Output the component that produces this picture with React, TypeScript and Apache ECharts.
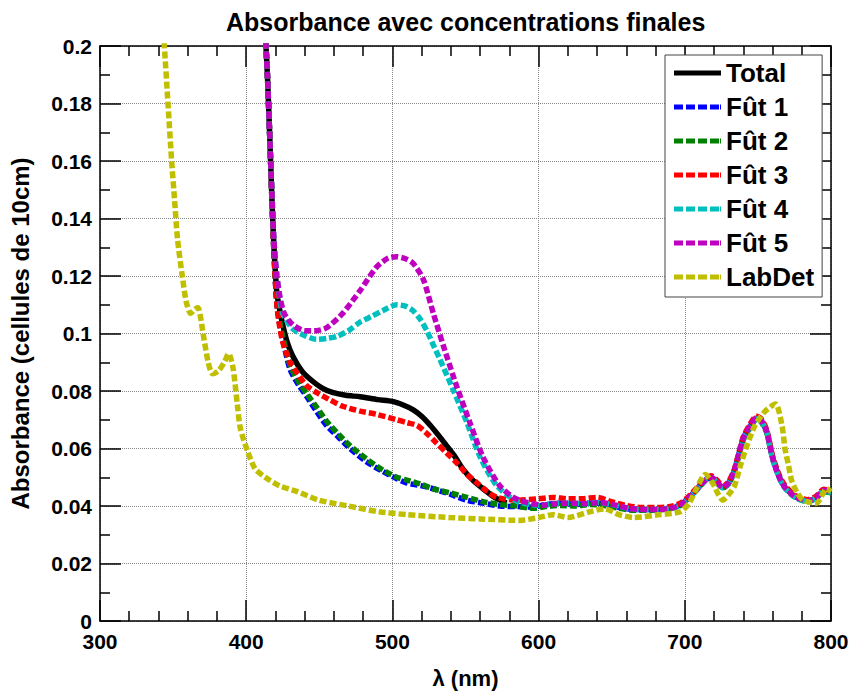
import React, { useEffect, useRef } from "react";
import * as echarts from "echarts";

const seriesNames = ["Total", "Fût 1", "Fût 2", "Fût 3", "Fût 4", "Fût 5", "LabDet"];
const seriesColors = ["#000000", "#0000FF", "#008000", "#FF0000", "#00BFBF", "#BF00BF", "#BFBF00"];

const xTicks = [300, 400, 500, 600, 700, 800];
const yTicks = [0, 0.02, 0.04, 0.06, 0.08, 0.1, 0.12, 0.14, 0.16, 0.18, 0.2];

const totalData: number[][] = [
  [413, 0.205], [414.5, 0.19], [416, 0.17], [417.5, 0.148], [419, 0.13], [421, 0.114],
  [423, 0.108], [425, 0.103], [428, 0.097], [432, 0.092], [438, 0.087], [444, 0.084], [452, 0.081],
  [459, 0.0795], [468, 0.0785], [478, 0.078], [490, 0.077], [500, 0.0764], [507, 0.0752],
  [514, 0.0735], [520, 0.0712], [526, 0.068], [532, 0.0643], [537, 0.061], [543, 0.057],
  [548, 0.053], [555, 0.049], [562, 0.046], [570, 0.043], [578, 0.041],
];

const fut1Data: number[][] = [
  [413, 0.205], [414.5, 0.19], [416, 0.17], [417.5, 0.148], [419, 0.128], [421, 0.11],
  [423, 0.103], [425, 0.098], [430, 0.0875], [436, 0.082], [441.5, 0.078], [448, 0.073],
  [455, 0.068], [463, 0.064], [471, 0.06], [482, 0.0555], [493.5, 0.052], [503, 0.0495],
  [510, 0.048], [520, 0.047], [528, 0.046], [540, 0.044], [551, 0.042], [562, 0.041],
  [573.5, 0.04], [585, 0.0398], [596, 0.0396], [605, 0.0405], [615, 0.041], [625, 0.0405],
  [635, 0.041], [645, 0.0408], [655, 0.0395], [665, 0.0388], [675, 0.0388], [685, 0.039],
  [692, 0.0395], [697, 0.0405], [703, 0.043], [708, 0.0458], [714, 0.049], [718, 0.05],
  [722, 0.0483], [726, 0.0465], [730, 0.048], [734, 0.0525], [740, 0.0635], [745, 0.068],
  [749, 0.0705], [752, 0.0698], [756, 0.066], [760, 0.057], [764, 0.051], [768, 0.047],
  [775, 0.0435], [784, 0.0418], [790, 0.043], [795, 0.0452], [800, 0.0448],
];

const fut2Data: number[][] = [
  [413, 0.205], [414.5, 0.19], [416, 0.17], [417.5, 0.148], [419, 0.128], [421, 0.111],
  [423, 0.104], [425, 0.099], [430, 0.089], [436, 0.083], [441.5, 0.079], [448, 0.0745],
  [455, 0.0695], [463, 0.065], [471, 0.061], [482, 0.0565], [493.5, 0.0525], [503, 0.05],
  [510, 0.049], [520, 0.0475], [528, 0.046], [540, 0.0445], [551, 0.043], [562, 0.0415],
  [573.5, 0.0405], [585, 0.04], [596, 0.0392], [605, 0.0398], [615, 0.0402], [625, 0.04],
  [635, 0.0405], [645, 0.0402], [655, 0.0392], [665, 0.0385], [675, 0.0385], [685, 0.0388],
  [692, 0.0393], [697, 0.0402], [703, 0.0428], [708, 0.0455], [714, 0.0488], [718, 0.0498],
  [722, 0.048], [726, 0.0462], [730, 0.0478], [734, 0.0522], [740, 0.063], [745, 0.0675],
  [749, 0.07], [752, 0.0694], [756, 0.0655], [760, 0.0568], [764, 0.0508], [768, 0.0468],
  [775, 0.0432], [784, 0.0415], [790, 0.0428], [795, 0.045], [800, 0.0446],
];

const fut3Data: number[][] = [
  [413, 0.205], [414.5, 0.19], [416, 0.17], [417.5, 0.148], [419, 0.128], [421, 0.11],
  [423, 0.102], [425, 0.097], [430, 0.09], [434.5, 0.0865], [441, 0.082], [448, 0.0795],
  [457, 0.077], [466, 0.0747], [478, 0.073], [489, 0.0719], [503, 0.07], [510, 0.069],
  [517, 0.068], [523, 0.0655], [530, 0.062], [537, 0.0585], [544, 0.055], [551, 0.051],
  [558, 0.048], [565, 0.045], [571.5, 0.043], [585, 0.042], [600, 0.0425], [610, 0.043],
  [620, 0.0425], [630, 0.0425], [640, 0.043], [650, 0.0415], [660, 0.0402], [670, 0.0395],
  [680, 0.0395], [690, 0.0398], [697, 0.041], [703, 0.0435], [708, 0.0462], [714, 0.0495],
  [718, 0.0505], [722, 0.049], [726, 0.047], [730, 0.0485], [734, 0.053], [740, 0.064],
  [745, 0.0688], [749, 0.0712], [752, 0.0705], [756, 0.0665], [760, 0.0575], [764, 0.0515],
  [768, 0.0475], [775, 0.0438], [784, 0.0422], [790, 0.0435], [795, 0.0458], [800, 0.0452],
];

const fut4Data: number[][] = [
  [413, 0.205], [414.5, 0.19], [416, 0.17], [417.5, 0.15], [419, 0.132], [421, 0.12],
  [423, 0.112], [425, 0.107], [431, 0.102], [437, 0.1], [448, 0.098], [455, 0.0983],
  [462, 0.099], [470, 0.101], [478, 0.104], [486, 0.106], [493.5, 0.108], [503, 0.11],
  [509, 0.1095], [514, 0.108], [519, 0.105], [523.5, 0.101], [528, 0.096], [532.5, 0.091],
  [541.5, 0.0805], [551, 0.069], [560, 0.057], [571.5, 0.047], [585, 0.0417], [601, 0.0402],
  [610, 0.0408], [620, 0.041], [630, 0.0408], [640, 0.0412], [650, 0.0405], [660, 0.0393],
  [670, 0.0388], [680, 0.0388], [690, 0.039], [697, 0.0402], [703, 0.0428], [708, 0.0455],
  [714, 0.0488], [718, 0.0498], [722, 0.0482], [726, 0.0463], [730, 0.0478], [734, 0.0522],
  [740, 0.0632], [745, 0.0678], [749, 0.0703], [752, 0.0697], [756, 0.0658], [760, 0.0565],
  [764, 0.0505], [768, 0.0465], [775, 0.0432], [784, 0.0416], [790, 0.0428], [795, 0.0452],
  [800, 0.0447],
];

const fut5Data: number[][] = [
  [413, 0.205], [414.5, 0.19], [416, 0.17], [417.5, 0.15], [419, 0.132], [421, 0.12],
  [423, 0.113], [426, 0.107], [432, 0.103], [440, 0.101], [448, 0.101], [455, 0.102],
  [466, 0.107], [478, 0.115], [489, 0.123], [497, 0.1262], [503, 0.1267], [509, 0.126],
  [514, 0.1245], [521, 0.119], [528, 0.107], [535, 0.0955], [544, 0.0816], [553, 0.069],
  [562, 0.057], [573.5, 0.047], [585, 0.0424], [603, 0.0403], [612, 0.0408], [622, 0.041],
  [632, 0.0408], [642, 0.0412], [652, 0.0404], [662, 0.0392], [672, 0.0388], [682, 0.0388],
  [690, 0.0391], [697, 0.0404], [703, 0.043], [708, 0.0457], [714, 0.049], [718, 0.05],
  [722, 0.0484], [726, 0.0465], [730, 0.048], [734, 0.0525], [740, 0.0635], [745, 0.0682],
  [749, 0.0707], [752, 0.07], [756, 0.066], [760, 0.0568], [764, 0.0508], [768, 0.0468],
  [775, 0.0434], [784, 0.0418], [790, 0.043], [795, 0.0455], [800, 0.045],
];

const labDetData: number[][] = [
  [343, 0.205], [344, 0.2], [346.5, 0.18], [349, 0.16], [351, 0.1465], [353, 0.133],
  [356, 0.121], [359, 0.111], [362, 0.107], [365, 0.1085], [367, 0.109], [370.5, 0.1],
  [374, 0.09], [377, 0.086], [381, 0.087], [385, 0.09], [388, 0.093], [391, 0.088],
  [394, 0.075], [396, 0.067], [401, 0.059], [406, 0.053], [413, 0.05], [423, 0.047],
  [435, 0.045], [450, 0.042], [470, 0.04], [491, 0.038], [510, 0.037], [539, 0.036],
  [560, 0.0355], [587, 0.035], [600, 0.036], [610, 0.037], [620, 0.036], [635, 0.038],
  [645, 0.039], [655, 0.037], [665, 0.036], [683, 0.037], [697, 0.038], [703, 0.041],
  [708, 0.046], [714, 0.051], [719, 0.048], [723, 0.044], [726, 0.042], [730, 0.044],
  [734, 0.047], [738, 0.054], [742.5, 0.061], [748, 0.068], [755, 0.073], [762, 0.0755],
  [766.5, 0.068], [768.5, 0.06], [771, 0.054], [773, 0.049], [777, 0.0445], [781, 0.042],
  [790, 0.041], [797, 0.046], [800, 0.045],
];

const allData = [totalData, fut1Data, fut2Data, fut3Data, fut4Data, fut5Data, labDetData];

const FONT = "'Liberation Sans', Arial, Helvetica, sans-serif";
const SOLID_ICON = "path://M0,0h47v5h-47z";
const DASH_ICON = "path://M0,0h9v5h-9z M12,0h9v5h-9z M24,0h9v5h-9z M36,0h9v5h-9z M46,0h1v5h-1z";

export default function App() {
  const ref = useRef<HTMLDivElement>(null);
  useEffect(() => {
    if (!ref.current) return;
    const chart = echarts.init(ref.current, undefined, { renderer: "svg" });
    const axisCommon = {
      type: "value" as const,
      axisLine: { show: true, onZero: false, lineStyle: { color: "#000", width: 1.5 } },
      axisTick: { show: true, inside: true, length: 21, lineStyle: { color: "#000", width: 1.5 } },
      minorTick: { show: true, length: 10, lineStyle: { color: "#000", width: 1.5 } },
    };
    const xMin = xTicks[0];
    const xMax = xTicks[xTicks.length - 1];
    const xInt = xTicks[1] - xTicks[0];
    const yMin = yTicks[0];
    const yMax = yTicks[yTicks.length - 1];
    const yInt = yTicks[1] - yTicks[0];
    const option: any = {
      animation: false,
      backgroundColor: "#ffffff",
      title: {
        text: "Absorbance avec concentrations finales",
        left: 221,
        top: 4,
        textStyle: { fontFamily: FONT, fontWeight: "bold", fontSize: 25, color: "#000" },
      },
      grid: { left: 100, right: 21, top: 46, bottom: 72, containLabel: false },
      legend: {
        orient: "vertical",
        left: 665,
        top: 55,
        backgroundColor: "#fff",
        borderColor: "#444",
        borderWidth: 1,
        padding: [4, 8, 6, 9],
        itemWidth: 47,
        itemHeight: 5,
        itemGap: 6,
        textStyle: { fontFamily: FONT, fontWeight: "bold", fontSize: 26, color: "#000", lineHeight: 28 },
        data: seriesNames.map((name, i) => ({
          name,
          icon: i === 0 ? SOLID_ICON : DASH_ICON,
          itemStyle: { color: seriesColors[i] },
        })),
      },
      xAxis: [
        {
          ...axisCommon,
          min: xMin,
          max: xMax,
          interval: xInt,
          minorSplitLine: { show: false },
          minorTick: { ...axisCommon.minorTick, splitNumber: 5 },
          splitLine: { show: true, lineStyle: { type: "dotted", color: "#888", width: 1 } },
          axisLabel: { fontFamily: FONT, fontWeight: "bold", fontSize: 21, color: "#000", margin: 10 },
          name: "λ (nm)",
          nameLocation: "middle",
          nameGap: 46,
          nameTextStyle: { fontFamily: FONT, fontWeight: "bold", fontSize: 22, color: "#000" },
        },
        {
          ...axisCommon,
          position: "top",
          min: xMin,
          max: xMax,
          interval: xInt,
          minorTick: { ...axisCommon.minorTick, splitNumber: 5 },
          splitLine: { show: false },
          axisLabel: { show: false },
        },
      ],
      yAxis: [
        {
          ...axisCommon,
          min: yMin,
          max: yMax,
          interval: yInt,
          minorTick: { ...axisCommon.minorTick, splitNumber: 2 },
          splitLine: { show: true, lineStyle: { type: "dotted", color: "#888", width: 1 } },
          axisLabel: { fontFamily: FONT, fontWeight: "bold", fontSize: 21, color: "#000", margin: 8 },
          name: "Absorbance (cellules de 10cm)",
          nameLocation: "middle",
          nameGap: 68,
          nameTextStyle: { fontFamily: FONT, fontWeight: "bold", fontSize: 24, color: "#000" },
        },
        {
          ...axisCommon,
          position: "right",
          min: yMin,
          max: yMax,
          interval: yInt,
          minorTick: { ...axisCommon.minorTick, splitNumber: 2 },
          splitLine: { show: false },
          axisLabel: { show: false },
        },
      ],
      series: seriesNames.map((name, i) => ({
        name,
        type: "line",
        xAxisIndex: 0,
        yAxisIndex: 0,
        data: allData[i],
        showSymbol: false,
        symbol: "none",
        smooth: 0.25,
        clip: true,
        color: seriesColors[i],
        lineStyle: {
          color: seriesColors[i],
          width: 5.5,
          type: i === 0 ? "solid" : [7, 3],
          cap: "butt",
        },
      })),
    };
    chart.setOption(option);
    return () => chart.dispose();
  }, []);
  return (
    <div
      ref={ref}
      style={{ position: "fixed", left: 0, top: 0, width: 852, height: 694, background: "#fff" }}
    />
  );
}
